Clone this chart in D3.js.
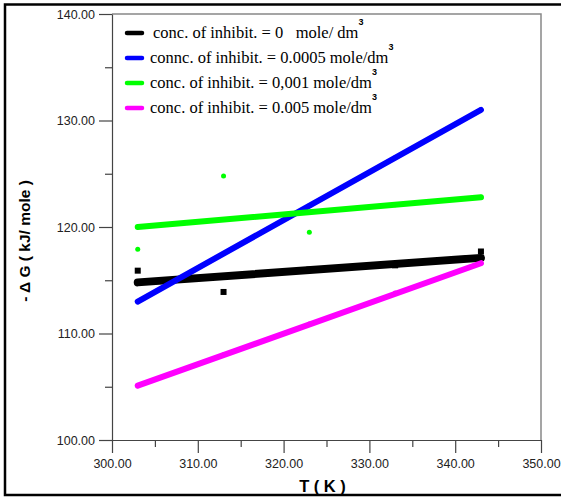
<!DOCTYPE html>
<html>
<head>
<meta charset="utf-8">
<script src="https://cdn.jsdelivr.net/npm/d3@7"></script>
<style>
  body { margin: 0; background: #fff; }
  svg { display: block; }
</style>
</head>
<body>
<svg id="chart"></svg>
<script>
// temperatures (K) and -dG values (kJ/mole)
const temps = [303, 313, 323, 333, 343];
const fitT = [303, 343];

const seriesNames = [
  "conc. of inhibit. = 0   mole/ dm",
  "connc. of inhibit. = 0.0005 mole/dm",
  "conc. of inhibit. = 0,001 mole/dm",
  "conc. of inhibit. = 0.005 mole/dm"
];
const seriesColors = ["#000000", "#0000ff", "#00ff00", "#ff00ff"];

// measured points
const pts0 = [115.9, 113.9, 116.0, 116.4, 117.7];
const pts0005 = [113.0, 117.5, 122.0, 126.5, 131.0];
const pts001 = [117.9, 124.8, 119.5, 122.1, 122.8];
const pts005 = [105.1, 108.0, 110.9, 113.8, 116.6];

// fitted lines (value at 303 K, value at 343 K)
const fit0 = [114.8, 117.1];
const fit0005 = [113.0, 131.0];
const fit001 = [120.0, 122.8];
const fit005 = [105.1, 116.6];

const yTicks = [100, 110, 120, 130, 140];
const xTicks = [300, 310, 320, 330, 340, 350];

const W = 561, H = 497;
const margin = { top: 14, right: 20, bottom: 57, left: 112 },
  width = W - margin.left - margin.right,
  height = H - margin.top - margin.bottom;

const root = d3.select("#chart").attr("width", W).attr("height", H);

// outer frame (right side runs off the picture)
root.append("rect")
  .attr("x", 5).attr("y", 4.5)
  .attr("width", 600).attr("height", 490.5)
  .attr("fill", "none").attr("stroke", "#000").attr("stroke-width", 2.5);

const svg = root.append("g")
  .attr("transform", "translate(" + margin.left + "," + margin.top + ")");

let xScale = d3.scaleLinear([300, 350], [0, width]);
let yScale = d3.scaleLinear([100, 140], [height, 0]);

// top and right edges of plot box
svg.append("path")
  .attr("d", `M0,0H${width}V${height}`)
  .attr("fill", "none").attr("stroke", "#888").attr("stroke-width", 1.5);

// minor ticks
svg.append("g")
  .attr("transform", `translate(0,${height})`)
  .call(d3.axisBottom(xScale).tickValues([305, 315, 325, 335, 345]).tickSize(7).tickFormat(""))
  .call(g => g.select(".domain").remove())
  .selectAll("line").attr("stroke", "#444").attr("stroke-width", 1.2);
svg.append("g")
  .call(d3.axisLeft(yScale).tickValues([105, 115, 125, 135]).tickSize(7).tickFormat(""))
  .call(g => g.select(".domain").remove())
  .selectAll("line").attr("stroke", "#444").attr("stroke-width", 1.2);

// major axes
const xAxis = svg.append("g")
  .attr("transform", `translate(0,${height})`)
  .call(d3.axisBottom(xScale).tickValues(xTicks).tickSize(13).tickSizeOuter(0).tickPadding(6).tickFormat(d3.format(".2f")));
const yAxis = svg.append("g")
  .call(d3.axisLeft(yScale).tickValues(yTicks).tickSize(13).tickSizeOuter(0).tickPadding(4).tickFormat(d3.format(".2f")));
[xAxis, yAxis].forEach(a => {
  a.selectAll("line, .domain").attr("stroke", "#444").attr("stroke-width", 1.2);
  a.selectAll("text").attr("font-family", "Liberation Sans, Arial, sans-serif")
    .attr("font-size", 12.5).attr("fill", "#222");
});

// axis labels
svg.append("text")
  .attr("text-anchor", "middle")
  .attr("x", width / 2 - 4)
  .attr("y", height + 52)
  .attr("font-family", "Liberation Sans, Arial, sans-serif")
  .attr("font-weight", "bold").attr("font-size", 16.5)
  .text("T ( K )");
svg.append("text")
  .attr("text-anchor", "middle")
  .attr("transform", `translate(${-82},${height / 2 + 14}) rotate(-90)`)
  .attr("font-family", "Liberation Sans, Arial, sans-serif")
  .attr("font-weight", "bold").attr("font-size", 15.5)
  .attr("xml:space", "preserve")
  .text("- \u0394 G ( kJ/ mole )");

// fitted lines
const fits = [fit0, fit0005, fit001, fit005];
const widths = [8, 6, 6, 6];
let line = d3.line()
  .x(d => xScale(d[0]))
  .y(d => yScale(d[1]));
fits.forEach((f, i) => {
  svg.append("path")
    .datum(fitT.map((t, j) => [t, f[j]]))
    .attr("fill", "none")
    .attr("stroke", seriesColors[i])
    .attr("stroke-width", widths[i])
    .attr("stroke-linecap", "round")
    .attr("d", line);
});

// data points
const pointSets = [pts0, pts0005, pts001, pts005];
pointSets.forEach((p, i) => {
  const g = svg.append("g");
  if (i === 0) {
    g.selectAll("rect").data(p).join("rect")
      .attr("x", (d, j) => xScale(temps[j]) - 3)
      .attr("y", d => yScale(d) - 3)
      .attr("width", 6).attr("height", 6)
      .attr("fill", seriesColors[i]);
  } else {
    g.selectAll("circle").data(p).join("circle")
      .attr("cx", (d, j) => xScale(temps[j]))
      .attr("cy", d => yScale(d))
      .attr("r", 2.5)
      .attr("fill", seriesColors[i]);
  }
});

// legend
const legend = root.append("g");
seriesNames.forEach((name, i) => {
  const yy = 33 + i * 25;
  legend.append("line")
    .attr("x1", 127).attr("x2", 142)
    .attr("y1", yy).attr("y2", yy)
    .attr("stroke", seriesColors[i]).attr("stroke-width", 4.5)
    .attr("stroke-linecap", "round");
  const t = legend.append("text")
    .attr("x", i === 0 ? 153 : 150).attr("y", yy + 5)
    .attr("font-family", "Liberation Serif, Times New Roman, serif")
    .attr("font-size", 16.5)
    .attr("xml:space", "preserve")
    .text(name);
  const w = t.node().getComputedTextLength();
  legend.append("text")
    .attr("x", (i === 0 ? 153 : 150) + w).attr("y", yy - 8)
    .attr("font-family", "Liberation Sans, Arial, sans-serif")
    .attr("font-weight", "bold").attr("font-size", 9)
    .text("3");
});
</script>
</body>
</html>
